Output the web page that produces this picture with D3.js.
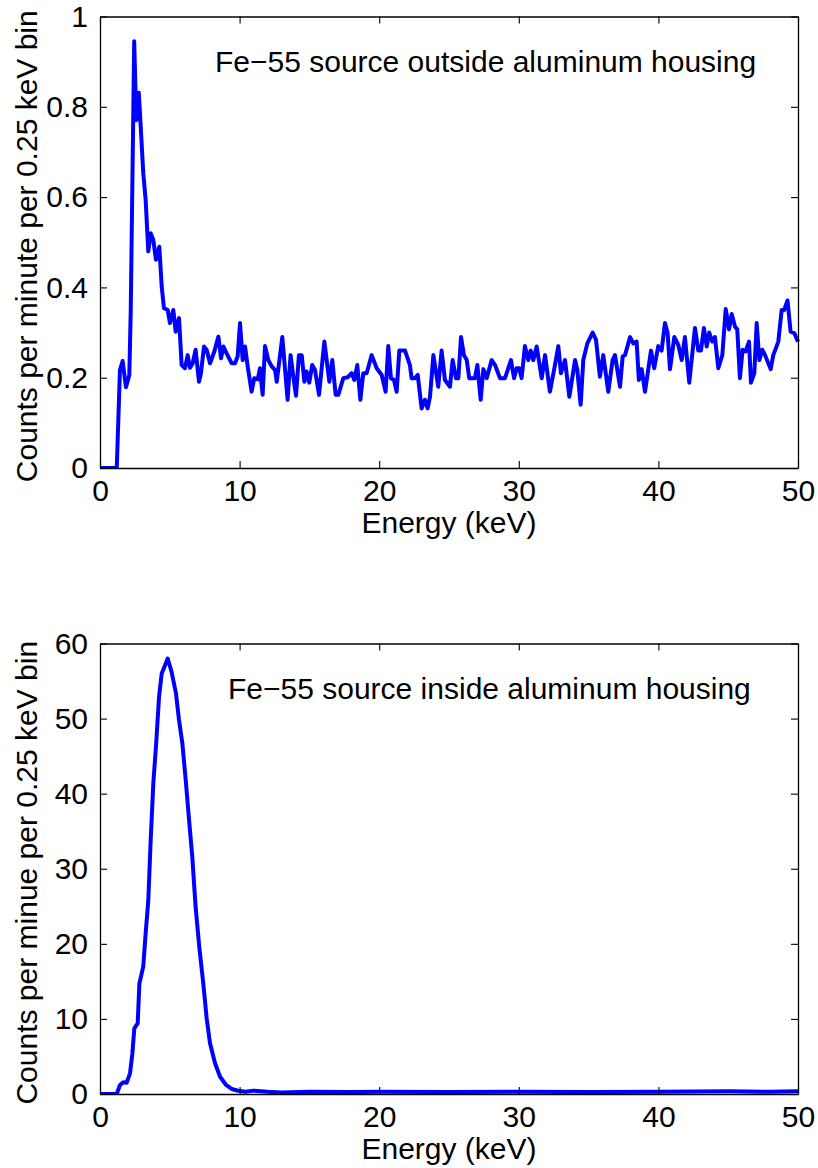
<!DOCTYPE html>
<html><head><meta charset="utf-8">
<script src="https://cdn.jsdelivr.net/npm/d3@7"></script>
<style>
html,body{margin:0;padding:0;background:#fff;}
text{font-family:"Liberation Sans",Arial,Helvetica,sans-serif;fill:#000;}
</style></head>
<body>
<svg id="chart" width="818" height="1168"></svg>
<script>
// ---- data ----
const xTicks = [0, 10, 20, 30, 40, 50];
const topYTicks = [0, 0.2, 0.4, 0.6, 0.8, 1];
const topYTickLabels = ["0", "0.2", "0.4", "0.6", "0.8", "1"];
const bottomYTicks = [0, 10, 20, 30, 40, 50, 60];

const topEnergy = [0,1.2,1.43,1.62,1.86,2.1,2.2,2.45,2.6,2.78,2.9,3.1,3.27,3.46,3.63,3.82,4.01,4.25,4.42,4.58,4.85,5.01,5.25,5.42,5.66,5.85,6.09,6.28,6.45,6.64,6.85,7.09,7.23,7.45,7.64,7.88,8.19,8.48,8.67,8.84,9.07,9.43,9.67,9.86,10.03,10.22,10.39,10.58,10.86,11.05,11.3,11.46,11.65,11.82,12.06,12.3,12.54,12.66,13.06,13.44,13.65,13.85,14.04,14.25,14.45,14.64,14.8,14.99,15.2,15.4,15.69,16.07,16.43,16.64,16.88,17.07,17.43,17.74,18.03,18.22,18.43,18.65,18.86,19.1,19.46,19.82,20.18,20.46,20.65,20.84,21.06,21.25,21.44,21.85,22.2,22.32,22.56,22.76,23.04,23.28,23.47,23.64,23.88,24.23,24.47,24.71,25.07,25.26,25.5,25.67,25.86,26.07,26.27,26.45,26.86,27.03,27.27,27.46,27.7,28.06,28.3,28.65,29.01,29.44,29.66,29.85,30.03,30.2,30.44,30.68,30.85,31.04,31.28,31.64,31.88,32.23,32.59,32.83,33.02,33.31,33.62,34.03,34.19,34.43,34.62,34.91,35.29,35.53,35.81,36.05,36.41,36.72,36.89,37.25,37.44,37.61,37.97,38.2,38.44,38.6,38.8,39.04,39.47,39.7,39.99,40.23,40.47,40.66,40.83,41.14,41.42,41.67,41.9,42.21,42.62,42.86,43.05,43.26,43.46,43.64,43.86,44.05,44.29,44.58,44.82,45.06,45.25,45.49,45.65,45.84,46.03,46.25,46.49,46.63,46.87,47.04,47.23,47.44,47.64,48.04,48.23,48.59,48.83,49.01,49.25,49.47,49.73,50];
const topCounts = [0,0,0.217,0.237,0.179,0.206,0.345,0.945,0.77,0.831,0.765,0.653,0.594,0.48,0.52,0.505,0.461,0.49,0.402,0.354,0.35,0.321,0.35,0.302,0.332,0.228,0.221,0.25,0.222,0.232,0.262,0.191,0.21,0.269,0.262,0.232,0.258,0.291,0.243,0.269,0.254,0.232,0.232,0.247,0.321,0.239,0.269,0.225,0.169,0.199,0.196,0.221,0.162,0.27,0.239,0.225,0.217,0.191,0.29,0.151,0.25,0.202,0.16,0.25,0.25,0.191,0.214,0.189,0.228,0.217,0.162,0.28,0.191,0.239,0.162,0.162,0.199,0.201,0.21,0.195,0.228,0.151,0.21,0.21,0.25,0.221,0.206,0.169,0.27,0.199,0.195,0.169,0.26,0.26,0.228,0.199,0.199,0.206,0.132,0.151,0.132,0.158,0.25,0.18,0.26,0.195,0.18,0.239,0.199,0.199,0.29,0.25,0.239,0.199,0.199,0.228,0.151,0.219,0.199,0.239,0.228,0.199,0.199,0.239,0.199,0.221,0.221,0.199,0.27,0.239,0.26,0.239,0.269,0.199,0.25,0.169,0.228,0.27,0.21,0.239,0.158,0.239,0.217,0.14,0.239,0.276,0.3,0.284,0.202,0.25,0.169,0.239,0.25,0.18,0.247,0.25,0.29,0.276,0.28,0.195,0.219,0.169,0.26,0.221,0.27,0.26,0.321,0.299,0.219,0.29,0.273,0.239,0.29,0.189,0.31,0.26,0.26,0.31,0.269,0.3,0.28,0.29,0.221,0.25,0.352,0.307,0.341,0.313,0.307,0.199,0.262,0.258,0.28,0.189,0.21,0.321,0.239,0.262,0.25,0.219,0.25,0.28,0.35,0.35,0.371,0.302,0.299,0.28];

const bottomEnergy = [0,1.2,1.43,1.67,1.91,2.15,2.32,2.46,2.7,2.82,3.1,3.27,3.46,3.63,3.82,4.01,4.23,4.42,4.66,4.85,5.13,5.44,5.66,5.9,6.14,6.38,6.61,6.85,7.11,7.4,7.64,7.88,8.24,8.6,9.03,9.43,9.9,10.4,11,12,13,15,18,20,25,30,35,40,45,48,50];
const bottomCounts = [0,0,1.2,1.55,1.5,2.75,5.4,8.75,9.4,14.7,17,21.4,25.8,33.8,41.4,46.3,52.9,56,57.1,58,56.2,53.4,49.8,46.7,41.8,36.5,31.6,24.9,19.6,14.7,10.1,6.75,4.1,2.3,1.2,0.67,0.44,0.3,0.45,0.3,0.2,0.3,0.25,0.3,0.25,0.3,0.25,0.3,0.35,0.3,0.35];

const panels = [
  {energy: topEnergy, counts: topCounts, yDomain: [0, 1], yTicks: topYTicks, yTickLabels: topYTickLabels,
   top: 16.5, bottom: 468, title: "Fe\u221255 source outside aluminum housing", titleX: 215,
   ylabel: "Counts per minute per 0.25 keV bin"},
  {energy: bottomEnergy, counts: bottomCounts, yDomain: [0, 60], yTicks: bottomYTicks, yTickLabels: bottomYTicks.map(String),
   top: 643.5, bottom: 1094, title: "Fe\u221255 source inside aluminum housing", titleX: 228,
   ylabel: "Counts per minue per 0.25 keV bin"}
];

const svg = d3.select("#chart");
const left = 100, right = 798, FS = 30, tickLen = 7;

panels.forEach((p, i) => {
  const x = d3.scaleLinear().domain([0, 50]).range([left, right]);
  const y = d3.scaleLinear().domain(p.yDomain).range([p.bottom, p.top]);
  const g = svg.append("g");

  const clipId = "clip" + i;
  svg.append("clipPath").attr("id", clipId).append("rect")
    .attr("x", left).attr("y", p.top - 3).attr("width", right - left + 2).attr("height", p.bottom - p.top + 3);
  const line = d3.line().x((d, k) => x(p.energy[k])).y((d, k) => y(p.counts[k]));
  g.append("path").datum(p.counts).attr("d", line)
    .attr("fill", "none").attr("stroke", "#0000ff").attr("stroke-width", 4)
    .attr("stroke-linejoin", "round").attr("clip-path", "url(#" + clipId + ")");

  const axB = d3.axisBottom(x).tickValues(xTicks).tickSizeInner(-tickLen).tickSizeOuter(0).tickPadding(12);
  const axT = d3.axisTop(x).tickValues(xTicks).tickSizeInner(-tickLen).tickSizeOuter(0).tickFormat("");
  const axL = d3.axisLeft(y).tickValues(p.yTicks).tickSizeInner(-tickLen).tickSizeOuter(0).tickPadding(12)
    .tickFormat((d, k) => p.yTickLabels[k]);
  const axR = d3.axisRight(y).tickValues(p.yTicks).tickSizeInner(-tickLen).tickSizeOuter(0).tickFormat("");

  const gb = g.append("g").attr("transform", `translate(0,${p.bottom})`).call(axB);
  const gt = g.append("g").attr("transform", `translate(0,${p.top})`).call(axT);
  const gl = g.append("g").attr("transform", `translate(${left},0)`).call(axL);
  const gr = g.append("g").attr("transform", `translate(${right},0)`).call(axR);
  [gb, gt, gl, gr].forEach(a => {
    a.select(".domain").attr("stroke", "#000").attr("stroke-width", 1.3);
    a.selectAll(".tick line").attr("stroke", "#000").attr("stroke-width", 1.1);
    a.selectAll("text").attr("font-size", FS).attr("font-family", "Liberation Sans, Arial, sans-serif").attr("fill", "#000");
  });
  gb.selectAll(".tick text").attr("dy", "0.71em");

  g.append("text").attr("x", (left + right) / 2).attr("y", p.bottom + 65)
    .attr("text-anchor", "middle").attr("font-size", FS).text("Energy (keV)");
  g.append("text").attr("transform", `translate(37,${(p.top + p.bottom) / 2 + 4}) rotate(-90)`)
    .attr("text-anchor", "middle").attr("font-size", FS).text(p.ylabel);
  g.append("text").attr("x", p.titleX).attr("y", p.top + 55)
    .attr("font-size", FS).text(p.title);
});
</script>
</body></html>
